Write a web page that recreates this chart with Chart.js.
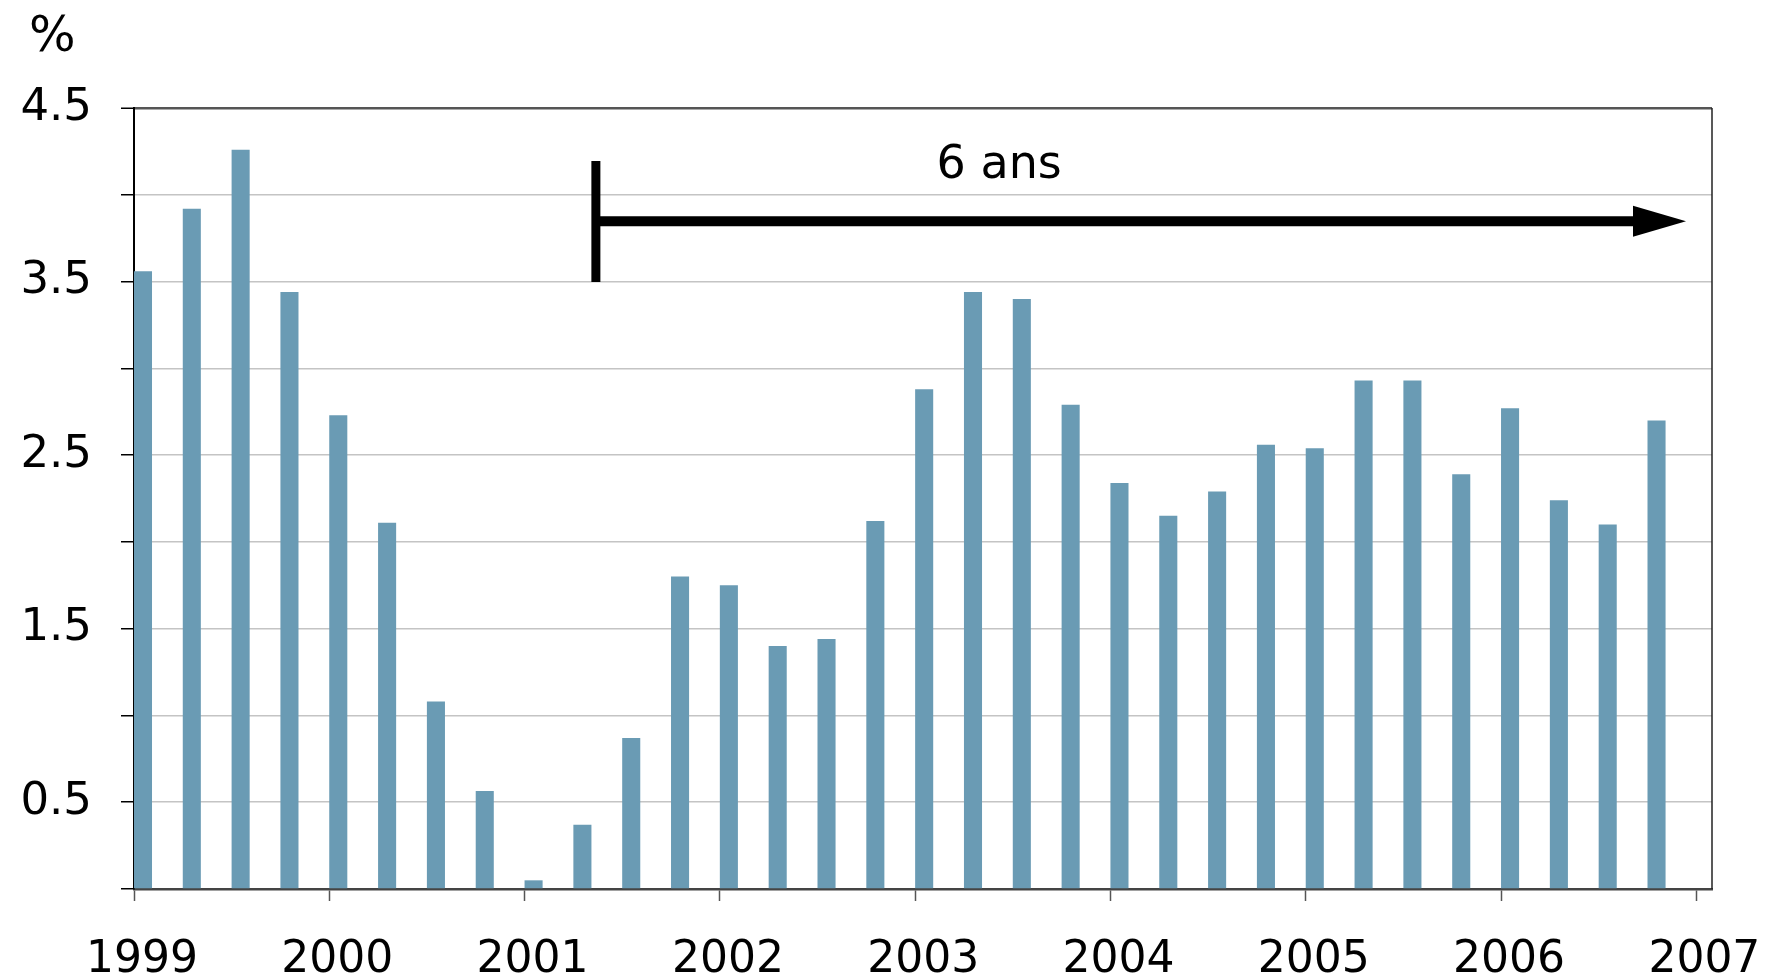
<!DOCTYPE html>
<html><head><meta charset="utf-8">
<script src="https://cdn.jsdelivr.net/npm/chart.js@4.4.1/dist/chart.umd.min.js"></script>
<style>html,body{margin:0;padding:0;background:#fff;}canvas{display:block}</style>
</head><body>
<canvas id="c" width="1766" height="978"></canvas>
<script>
// ---- data ----
const startYear = 1999;
const quarterValues = [3.56, 3.92, 4.26, 3.44, 2.73, 2.11, 1.08, 0.565,
                       0.05, 0.37, 0.87, 1.80, 1.75, 1.40, 1.44, 2.12,
                       2.88, 3.44, 3.40, 2.79, 2.34, 2.15, 2.29, 2.56,
                       2.54, 2.93, 2.93, 2.39, 2.77, 2.24, 2.10, 2.70];
const yearTicks = [1999, 2000, 2001, 2002, 2003, 2004, 2005, 2006, 2007];
const yTickValues = [0, 0.5, 1, 1.5, 2, 2.5, 3, 3.5, 4, 4.5];
const yLabelValues = [0.5, 1.5, 2.5, 3.5, 4.5];
const unitLabel = '%';
const spanLabel = '6 ans';
const spanStartYear = 2001.365;
const spanEndYear = 2006.947;
const spanLevel = 3.848;
const markerLow = 3.497, markerHigh = 4.194;
const spanLabelYear = 2003.43, spanLabelLevel = 4.095;

// ---- style ----
const FONT = 'DejaVu Sans';
const BAR_COLOR = '#6a9bb4';
const barOffsetYears = 0.046; // bar drawn just after quarter start

const points = quarterValues.map((v, i) => ({x: startYear + i / 4 + barOffsetYears, y: v}));

const framePlugin = {
  id: 'frame',
  afterDatasetsDraw(chart) {
    const {ctx, chartArea: a, scales: {x, y}} = chart;
    ctx.save();
    // right border
    ctx.strokeStyle = '#222';
    ctx.lineWidth = 1.5;
    ctx.beginPath();
    ctx.moveTo(a.right, a.top); ctx.lineTo(a.right, a.bottom);
    ctx.stroke();
    // span annotation
    ctx.fillStyle = '#000';
    ctx.strokeStyle = '#000';
    const xs = x.getPixelForValue(spanStartYear);
    const xe = x.getPixelForValue(spanEndYear);
    const yl = y.getPixelForValue(spanLevel);
    ctx.lineWidth = 9;
    ctx.beginPath();
    ctx.moveTo(xs, y.getPixelForValue(markerLow));
    ctx.lineTo(xs, y.getPixelForValue(markerHigh));
    ctx.stroke();
    const headLen = 53, headHalf = 15.5;
    ctx.lineWidth = 10;
    ctx.beginPath();
    ctx.moveTo(xs, yl); ctx.lineTo(xe - headLen + 2, yl);
    ctx.stroke();
    ctx.beginPath();
    ctx.moveTo(xe, yl);
    ctx.lineTo(xe - headLen, yl - headHalf);
    ctx.lineTo(xe - headLen, yl + headHalf);
    ctx.closePath();
    ctx.fill();
    ctx.font = '46px "' + FONT + '"';
    ctx.textAlign = 'center';
    ctx.textBaseline = 'alphabetic';
    ctx.fillText(spanLabel, x.getPixelForValue(spanLabelYear), y.getPixelForValue(spanLabelLevel));
    // unit label
    ctx.font = '49px "' + FONT + '"';
    ctx.textAlign = 'left';
    ctx.fillText(unitLabel, 29, 51);
    ctx.restore();
  }
};

new Chart(document.getElementById('c'), {
  type: 'bar',
  data: {
    datasets: [{
      data: points,
      backgroundColor: BAR_COLOR,
      borderWidth: 0,
      categoryPercentage: 1,
      barPercentage: 0.37
    }]
  },
  options: {
    responsive: false,
    animation: false,
    events: [],
    layout: {padding: {left: 0, right: 54, top: 108, bottom: 0}},
    plugins: {legend: {display: false}, tooltip: {enabled: false}},
    scales: {
      x: {
        type: 'linear',
        offset: false,
        min: startYear,
        max: 2007.08,
        afterBuildTicks(s) { s.ticks = yearTicks.map(v => ({value: v})); },
        afterFit(s) { s.height = 89; s.paddingRight = 0; s.paddingLeft = 0; },
        ticks: {
          callback: v => String(v),
          font: {family: FONT, size: 44},
          color: '#000',
          padding: 33,
          labelOffset: 8,
          maxRotation: 0,
          autoSkip: false
        },
        grid: {offset: false, drawOnChartArea: false, drawTicks: true, tickLength: 12, tickColor: '#555', tickWidth: 1.5},
        border: {color: '#444', width: 2.5}
      },
      y: {
        min: 0,
        max: 4.5,
        afterBuildTicks(s) { s.ticks = yTickValues.map(v => ({value: v})); },
        afterFit(s) { s.width = 134; },
        ticks: {
          callback: v => yLabelValues.includes(v) ? v.toFixed(1) : '',
          font: {family: FONT, size: 45},
          color: '#000',
          padding: 29
        },
        grid: {
          color: c => c.tick && c.tick.value === 4.5 ? '#555' : '#c4c4c4',
          lineWidth: c => c.tick && c.tick.value === 4.5 ? 2.5 : 1.5,
          tickColor: '#000',
          tickLength: 13,
          tickWidth: 1.5
        },
        border: {color: '#000', width: 2}
      }
    }
  },
  plugins: [framePlugin]
});
</script>
</body></html>
